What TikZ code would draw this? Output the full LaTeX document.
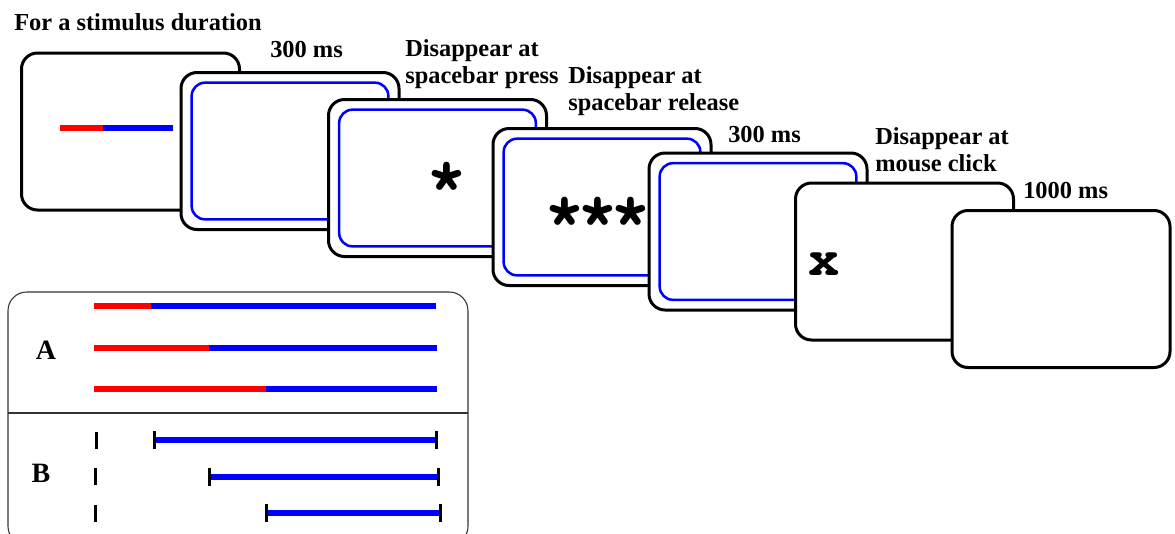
\documentclass[tikz,border=0pt]{standalone}
\usepackage{fontspec}
\setmainfont{Liberation Serif}
\newfontfamily\monofont{TeX Gyre Cursor}
\begin{document}
\begin{tikzpicture}[x=0.75pt,y=-0.75pt,
 card/.style={draw=black,line width=2.25pt,fill=white,rounded corners=12pt,
   minimum width=163.5pt,minimum height=117.75pt,inner sep=0pt},
 innerb/.style={draw=blue,line width=1.9pt,rounded corners=10pt,
   minimum width=147.5pt,minimum height=102.5pt,inner sep=0pt},
 lbl/.style={font=\fontsize{18.3}{20.4}\selectfont\bfseries,inner sep=0pt,align=left},
 big/.style={font=\fontsize{21}{21}\selectfont\bfseries,inner sep=0pt},
 sym/.style={font=\monofont\bfseries\fontsize{51}{51}\selectfont,inner sep=0pt},
 redl/.style={draw=red,line width=4.2pt},
 bluel/.style={draw=blue,line width=4.2pt},
 tick/.style={draw=black,line width=2.25pt}]
\useasboundingbox (0,0) rectangle (1175,533);
\clip (0,0) rectangle (1175,533);
% labels
\node[lbl,anchor=base west] (t1) at (14,30) {For a stimulus duration};
\node[lbl,anchor=base west] (t2) at (270,57) {300 ms};
\node[lbl,anchor=north west] (t3) at (405,39) {Disappear at\\spacebar press};
\node[lbl,anchor=north west] (t4) at (568,66) {Disappear at\\spacebar release};
\node[lbl,anchor=base west] (t5) at (728,142) {300 ms};
\node[lbl,anchor=north west] (t6) at (875,127) {Disappear at\\mouse click};
\node[lbl,anchor=base west] (t7) at (1023,198) {1000 ms};
% cards
\node[card] (c1) at (130.5,131.5) {};
\draw[redl] (60,128) -- (103,128);
\draw[bluel] (103,128) -- (173,128);
\node[card] (c2) at (290,151) {};
\node[innerb] (b2) at (c2.center) {};
\node[card] (c3) at (437.5,178) {};
\node[innerb] (b3) at (c3.center) {};
\node[sym] (s3) at (447,183) {*};
\node[card] (c4) at (602,207) {};
\node[innerb] (b4) at (c4.center) {};
\node[sym] (s4) at (598,218) {*\kern-6pt*\kern-6pt*};
\node[card] (c5) at (758,231.5) {};
\node[innerb] (b5) at (c5.center) {};
\node[card] (c6) at (904.5,261.5) {};
\node[sym,font=\monofont\bfseries\fontsize{39}{39}\selectfont] (x6) at (824,264) {x};
\node[card] (c7) at (1061,289) {};
% lower panel
\draw[line width=0.8pt,draw=black!80,rounded corners=14pt] (8,292) rectangle (468,545);
\draw[line width=0.8pt,draw=black!80] (8,413) -- (468,413);
\node[big] (A) at (46,350) {A};
\node[big] (B) at (41,473) {B};
\draw[redl] (94,306) -- (151,306);
\draw[bluel] (151,306) -- (436,306);
\draw[redl] (94,348) -- (209,348);
\draw[bluel] (209,348) -- (437,348);
\draw[redl] (94,389) -- (266,389);
\draw[bluel] (266,389) -- (437,389);
\draw[tick] (96,432) -- (96,449);
\draw[tick] (95,468) -- (95,485);
\draw[tick] (95,505) -- (95,522);
\draw[bluel] (154,440) -- (436,440);
\draw[tick] (154,431) -- (154,449);
\draw[tick] (436,431) -- (436,449);
\draw[bluel] (209,477) -- (438,477);
\draw[tick] (209,468) -- (209,486);
\draw[tick] (438,468) -- (438,486);
\draw[bluel] (266,513) -- (440,513);
\draw[tick] (266,504) -- (266,522);
\draw[tick] (440,504) -- (440,522);
\end{tikzpicture}
\end{document}
